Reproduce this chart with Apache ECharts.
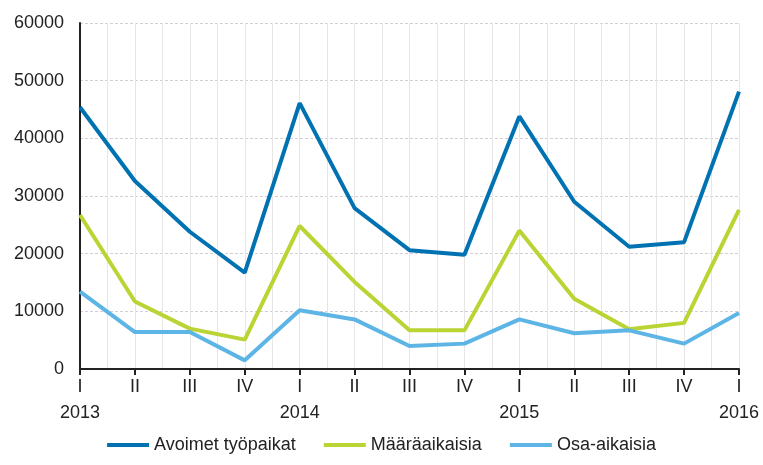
<!DOCTYPE html>
<html>
<head>
<meta charset="utf-8">
<script src="https://cdn.jsdelivr.net/npm/echarts@6/dist/echarts.min.js"></script>
<style>html,body{margin:0;padding:0;background:#fff}#c{width:763px;height:465px}</style>
</head>
<body>
<div id="c"></div>
<script>
var quarters = ['I','II','III','IV','I','II','III','IV','I','II','III','IV','I'];
var years = ['2013','','','','2014','','','','2015','','','','2016'];
var seriesNames = ['Avoimet työpaikat','Määräaikaisia','Osa-aikaisia'];
var avoimet = [45400,32600,23800,16700,46100,27900,20600,19800,43800,29000,21200,22000,48100];
var maaraaikaisia = [26700,11700,7000,5100,24800,15100,6700,6700,24000,12200,6900,8000,27600];
var osaaikaisia = [13400,6400,6400,1500,10200,8600,4000,4400,8600,6200,6700,4400,9700];
var yTicks = [0,10000,20000,30000,40000,50000,60000];

var cats = quarters.map(function(q,i){return q + '\n' + years[i];});
var minorCats = [];
for (var i = 0; i < (cats.length - 1) * 2 + 1; i++) minorCats.push(String(i));

var colors = ['#0072B2','#B9D433','#5DB5E6'];
var font = 'Liberation Sans, Arial, sans-serif';
var chart = echarts.init(document.getElementById('c'));
chart.setOption({
  animation: false,
  color: colors,
  grid: {left: 80, right: 24, top: 23, bottom: 96},
  legend: {
    bottom: 6, left: 'center',
    icon: 'rect', itemWidth: 42, itemHeight: 4, itemGap: 28,
    textStyle: {fontFamily: font, fontSize: 18, color: '#222'},
    data: seriesNames
  },
  xAxis: [{
    type: 'category', data: cats, boundaryGap: false,
    axisLine: {lineStyle: {color: '#222', width: 2}},
    axisTick: {show: true, length: 6, lineStyle: {color: '#222', width: 2}},
    axisLabel: {fontFamily: font, fontSize: 18, color: '#222', lineHeight: 26, margin: 5, interval: 0},
    splitLine: {show: false}
  },{
    type: 'category', data: minorCats, boundaryGap: false, position: 'top',
    axisLine: {show: false}, axisTick: {show: false}, axisLabel: {show: false},
    splitLine: {show: true, lineStyle: {color: '#e6e6e6', width: 1}}
  }],
  yAxis: {
    type: 'value', min: yTicks[0], max: yTicks[yTicks.length-1], interval: 10000,
    axisLine: {show: true, lineStyle: {color: '#222', width: 2}},
    axisTick: {show: false},
    axisLabel: {fontFamily: font, fontSize: 18, color: '#222', margin: 16,
      formatter: function(v){ return String(v); }},
    splitLine: {show: true, lineStyle: {color: '#d6ccd6', type: [3,2], width: 1}}
  },
  series: [
    {name: seriesNames[0], type: 'line', data: avoimet, showSymbol: false, lineStyle: {width: 4}},
    {name: seriesNames[1], type: 'line', data: maaraaikaisia, showSymbol: false, lineStyle: {width: 4}},
    {name: seriesNames[2], type: 'line', data: osaaikaisia, showSymbol: false, lineStyle: {width: 4}}
  ]
});
</script>
</body>
</html>
